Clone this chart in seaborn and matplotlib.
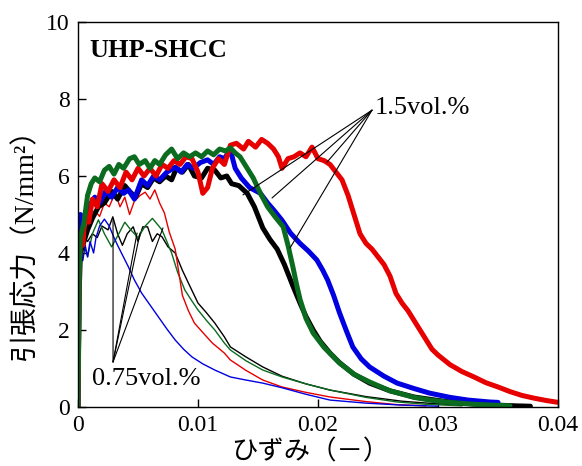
import matplotlib
matplotlib.use("Agg")
import matplotlib.pyplot as plt
import seaborn as sns

# ---------------- data ----------------
# 1.5 vol.% (thick lines)
red15_x = [0, 0.0001, 0.0002, 0.0004, 0.0006, 0.0009, 0.0012, 0.0016, 0.002, 0.0025, 0.003, 0.0035, 0.004, 0.0045,
           0.005, 0.0055, 0.006, 0.0065, 0.007, 0.0075, 0.008, 0.0085, 0.009, 0.0095, 0.0100, 0.0104, 0.0108, 0.0112,
           0.0117, 0.0122, 0.0127, 0.0132, 0.0138, 0.0142, 0.0148, 0.0153, 0.0158, 0.0163, 0.0167, 0.0170, 0.0175,
           0.018, 0.0185, 0.019, 0.0195, 0.0200, 0.0205, 0.021, 0.0215, 0.022, 0.0225, 0.023, 0.0235, 0.024, 0.0245,
           0.025, 0.0255, 0.026, 0.0265, 0.027, 0.0275, 0.028, 0.0285, 0.029, 0.0295, 0.030, 0.031, 0.032, 0.033,
           0.034, 0.035, 0.036, 0.037, 0.038, 0.039, 0.040]
red15_y = [0, 3.5, 4.5, 4.2, 5.0, 4.8, 5.4, 5.2, 5.8, 5.6, 5.9, 5.7, 6.1, 5.9,
           6.2, 6.0, 6.2, 6.0, 6.3, 6.2, 6.4, 6.3, 6.5, 6.45, 6.1, 5.55, 5.7, 6.2,
           6.45, 6.3, 6.8, 6.85, 6.7, 6.9, 6.75, 6.95, 6.85, 6.7, 6.5, 6.2, 6.45,
           6.5, 6.6, 6.5, 6.75, 6.45, 6.4, 6.3, 6.1, 5.9, 5.5, 5.0, 4.5, 4.25, 4.1,
           3.9, 3.7, 3.4, 2.95, 2.7, 2.5, 2.25, 2.0, 1.75, 1.5, 1.35, 1.1, 0.92, 0.78,
           0.63, 0.52, 0.4, 0.3, 0.23, 0.17, 0.12]

black15_x = [0, 0.0001, 0.0002, 0.0005, 0.0008, 0.0012, 0.0017, 0.0022, 0.0028, 0.0033, 0.0039, 0.0043, 0.0048,
             0.0053, 0.0058, 0.0063, 0.0068, 0.0073, 0.0078, 0.0082, 0.0087, 0.0092, 0.0097, 0.0103, 0.0108,
             0.0114, 0.0119, 0.0124, 0.0128, 0.0134, 0.0141, 0.0147, 0.0154, 0.016, 0.0166, 0.0172, 0.0179,
             0.0185, 0.019, 0.0196, 0.0202, 0.021, 0.0218, 0.023, 0.0243, 0.026, 0.028, 0.030, 0.032, 0.034,
             0.0365, 0.0377]
black15_y = [0, 3.0, 4.0, 4.3, 4.6, 4.9, 5.2, 5.3, 5.6, 5.4, 5.75, 5.6, 5.45,
             5.8, 5.7, 5.95, 5.85, 6.0, 5.9, 6.2, 6.1, 6.3, 6.0, 5.95, 6.2,
             6.15, 5.95, 6.0, 5.8, 5.75, 5.55, 5.2, 4.65, 4.35, 4.1, 3.7, 3.15,
             2.7, 2.35, 2.0, 1.7, 1.4, 1.15, 0.85, 0.62, 0.42, 0.26, 0.17, 0.1, 0.06,
             0.03, 0.02]

green15_x = [0, 0.0001, 0.0002, 0.0005, 0.0008, 0.0011, 0.0014, 0.0018, 0.0022, 0.0026, 0.003, 0.0034, 0.0038,
             0.0043, 0.0047, 0.0051, 0.0056, 0.006, 0.0064, 0.0068, 0.0073, 0.0078, 0.0083, 0.0088, 0.0093,
             0.0098, 0.0103, 0.0108, 0.0113, 0.0118, 0.0123, 0.0127, 0.0131, 0.0135, 0.014, 0.0146, 0.0152,
             0.0158, 0.0164, 0.0171, 0.0175, 0.0179, 0.0182, 0.0185, 0.019, 0.0196, 0.0205, 0.0218, 0.023,
             0.0243, 0.026, 0.028, 0.0293, 0.031, 0.033, 0.036]
green15_y = [0, 3.5, 4.4, 4.8, 5.5, 5.8, 5.95, 5.85, 6.15, 6.25, 6.05, 6.3, 6.2,
             6.45, 6.5, 6.3, 6.4, 6.2, 6.4, 6.3, 6.55, 6.7, 6.45, 6.6, 6.5,
             6.6, 6.5, 6.65, 6.55, 6.7, 6.65, 6.73, 6.6, 6.5, 6.25, 5.95, 5.55,
             5.2, 4.95, 4.68, 4.2, 3.65, 3.2, 2.8, 2.3, 1.92, 1.55, 1.14, 0.85,
             0.65, 0.42, 0.25, 0.18, 0.12, 0.07, 0.03]

blue15_x = [0, 0.0001, 0.0002, 0.0005, 0.0008, 0.0011, 0.0014, 0.0018, 0.0023, 0.0028, 0.0033, 0.0038, 0.0042,
            0.0047, 0.0053, 0.0058, 0.0063, 0.0068, 0.0074, 0.0081, 0.0086, 0.0091, 0.0096, 0.0102, 0.0108,
            0.0113, 0.0118, 0.0122, 0.0125, 0.0128, 0.0131, 0.0136, 0.0143, 0.0152, 0.0158, 0.0163, 0.0170,
            0.0177, 0.0185, 0.0192, 0.0199, 0.0204, 0.0208, 0.0213, 0.0218, 0.0224, 0.0229, 0.0236, 0.0243,
            0.0255, 0.0266, 0.028, 0.0293, 0.031, 0.0325, 0.0343, 0.035]
blue15_y = [0, 4.0, 5.0, 4.9, 5.2, 5.3, 5.45, 5.3, 5.6, 5.45, 5.7, 5.55, 5.64,
            5.4, 5.9, 5.75, 6.0, 5.9, 6.1, 6.23, 6.1, 6.3, 6.2, 6.35, 6.42,
            6.3, 6.5, 6.45, 6.6, 6.55, 6.2, 5.95, 5.7, 5.55, 5.3, 5.12, 4.85,
            4.52, 4.25, 4.05, 3.82, 3.55, 3.3, 2.9, 2.44, 1.95, 1.56, 1.25, 1.04,
            0.8, 0.62, 0.48, 0.36, 0.25, 0.18, 0.13, 0.12]

# 0.75 vol.% (thin lines)
blue075_x = [0, 0.0001, 0.0002, 0.0004, 0.0006, 0.0008, 0.001, 0.0013, 0.0015, 0.0018, 0.0022, 0.0026, 0.003,
             0.0033, 0.0037, 0.0042, 0.0047, 0.0053, 0.006, 0.0067, 0.0074, 0.0081, 0.0088, 0.0095, 0.0104,
             0.0114, 0.0127, 0.014, 0.0154, 0.017, 0.019, 0.021, 0.024, 0.027, 0.030]
blue075_y = [0, 3.3, 4.1, 3.8, 4.2, 3.9, 4.3, 4.0, 4.4, 4.7, 4.88, 4.7, 4.4,
             4.2, 3.95, 3.64, 3.3, 2.96, 2.65, 2.34, 2.03, 1.74, 1.5, 1.3, 1.12,
             0.96, 0.78, 0.7, 0.62, 0.5, 0.33, 0.18, 0.1, 0.05, 0.02]

red075_x = [0, 0.0001, 0.0002, 0.0005, 0.0008, 0.0011, 0.0014, 0.0018, 0.0022, 0.0026, 0.0031, 0.0035, 0.0039,
            0.0043, 0.0047, 0.0052, 0.0056, 0.006, 0.0064, 0.0068, 0.0072, 0.0076, 0.0081, 0.0084, 0.0087,
            0.0092, 0.0097, 0.0105, 0.0112, 0.0122, 0.0127, 0.014, 0.0154, 0.017, 0.019, 0.021, 0.024, 0.0266,
            0.029]
red075_y = [0, 3.5, 4.3, 4.6, 4.5, 4.9, 5.1, 4.95, 5.3, 5.2, 5.56, 5.2, 5.45,
            5.0, 5.35, 5.5, 5.58, 5.4, 5.64, 5.3, 5.04, 4.55, 4.1, 3.5, 2.9,
            2.5, 2.18, 1.9, 1.66, 1.4, 1.22, 0.95, 0.7, 0.52, 0.38, 0.26, 0.14, 0.06,
            0.03]

green075_x = [0, 0.0001, 0.0002, 0.0005, 0.0008, 0.0012, 0.0017, 0.0022, 0.0028, 0.0034, 0.0039, 0.0044, 0.005,
              0.0056, 0.0062, 0.0066, 0.007, 0.0074, 0.0078, 0.0083, 0.0089, 0.0095, 0.01, 0.0107, 0.0114,
              0.0122, 0.0127, 0.014, 0.0154, 0.017, 0.019, 0.021, 0.024, 0.0266, 0.029, 0.032]
green075_y = [0, 3.2, 4.0, 4.2, 3.9, 4.5, 4.86, 4.5, 4.16, 4.5, 4.8, 4.6, 4.4,
              4.7, 4.9, 4.75, 4.6, 4.3, 4.0, 3.5, 3.04, 2.75, 2.52, 2.25, 2.0,
              1.66, 1.48, 1.2, 0.96, 0.78, 0.6, 0.44, 0.25, 0.13, 0.07, 0.03]

black075_x = [0, 0.0001, 0.0002, 0.0005, 0.0008, 0.0012, 0.0016, 0.002, 0.0025, 0.0029, 0.0033, 0.0037, 0.0041,
              0.0046, 0.005, 0.0054, 0.0058, 0.0062, 0.0066, 0.007, 0.0075, 0.0081, 0.0087, 0.0092, 0.01,
              0.0107, 0.0114, 0.0122, 0.0127, 0.014, 0.0154, 0.017, 0.019, 0.021, 0.024, 0.027, 0.03, 0.033,
              0.035]
black075_y = [0, 3.3, 4.2, 4.4, 4.3, 4.5, 4.4, 4.7, 4.6, 4.94, 4.5, 4.2, 4.5,
              4.68, 4.3, 4.68, 4.68, 4.3, 4.5, 4.42, 4.16, 4.0, 3.55, 3.22, 2.7,
              2.45, 2.18, 1.82, 1.56, 1.3, 1.04, 0.8, 0.6, 0.44, 0.27, 0.15, 0.08, 0.04,
              0.02]

x_ticks = [0, 0.01, 0.02, 0.03, 0.04]
x_tick_labels = ["0", "0.01", "0.02", "0.03", "0.04"]
y_ticks = [0, 2, 4, 6, 8, 10]
y_tick_labels = ["0", "2", "4", "6", "8", "10"]

# annotation leader lines
label15 = "1.5vol.%"
apex15 = (0.0245, 7.71)
ends15 = [(0.01375, 5.51), (0.01617, 5.43), (0.01767, 4.13), (0.02075, 6.36)]
label075 = "0.75vol.%"
apex075 = (0.00292, 1.17)
ends075 = [(0.00292, 4.86), (0.00492, 4.52), (0.00517, 4.52), (0.00708, 4.65)]

# ---------------- plotting ----------------
sns.set_theme(style="ticks")
plt.rcParams["font.family"] = ["Liberation Serif", "Noto Sans CJK JP"]
plt.rcParams["axes.unicode_minus"] = False
plt.rcParams["text.color"] = "black"
plt.rcParams["axes.labelcolor"] = "black"
plt.rcParams["xtick.color"] = "black"
plt.rcParams["ytick.color"] = "black"

fig = plt.figure(figsize=(5.82, 4.66), dpi=100)
ax = fig.add_axes([78 / 582, 1 - 407 / 466, (558 - 78) / 582, (407 - 22) / 466])

RED, BLUE, GREEN, BLACK = "#e60000", "#0000e0", "#0b6b1f", "#000000"
thin = 1.0
thick = 3.6

for xs, ys, c in [(black075_x, black075_y, BLACK), (green075_x, green075_y, GREEN),
                  (red075_x, red075_y, RED), (blue075_x, blue075_y, BLUE)]:
    sns.lineplot(x=xs, y=ys, ax=ax, color=c, lw=thin, sort=False, estimator=None)

for xs, ys, c in [(black15_x, black15_y, BLACK), (blue15_x, blue15_y, BLUE),
                  (red15_x, red15_y, RED), (green15_x, green15_y, GREEN)]:
    sns.lineplot(x=xs, y=ys, ax=ax, color=c, lw=thick, sort=False, estimator=None,
                 solid_joinstyle="round", solid_capstyle="round")

ax.set_xlim(0, 0.04)
ax.set_ylim(0, 10)
ax.set_xticks(x_ticks)
ax.set_xticklabels(x_tick_labels)
ax.set_yticks(y_ticks)
ax.set_yticklabels(y_tick_labels)
ax.tick_params(direction="in", length=6, width=1, labelsize=17, colors="black", pad=6)
for s in ax.spines.values():
    s.set_visible(True)
    s.set_color("black")
    s.set_linewidth(1.0)
ax.set_xlabel("")
ax.set_ylabel("")

# leader lines
for e in ends15:
    ax.annotate("", xy=e, xytext=apex15,
                arrowprops=dict(arrowstyle="-", color="black", lw=0.8, shrinkA=0, shrinkB=0))
for e in ends075:
    ax.annotate("", xy=e, xytext=apex075,
                arrowprops=dict(arrowstyle="-", color="black", lw=0.8, shrinkA=0, shrinkB=0))

ax.text(0.02475, 7.77, label15, fontsize=19, ha="left", va="center", color="black",
        family="Liberation Serif")
ax.text(0.00117, 0.73, label075, fontsize=19, ha="left", va="center", color="black",
        family="Liberation Serif")
ax.text(0.00092, 9.27, "UHP-SHCC", fontsize=19, fontweight="bold", ha="left", va="center",
        color="black", family="Liberation Serif")

fig.text(310 / 582, 1 - 452 / 466, "ひずみ（－）", fontsize=19, ha="center", va="center",
         color="black", family=["Noto Sans CJK JP"])
fig.text(25 / 582, 1 - 237 / 466, "引張応力（N/mm²）", fontsize=20, rotation=90, ha="center", va="center",
         color="black", family=["Liberation Serif", "Noto Sans CJK JP"])

fig.savefig("out.png", dpi=100)
